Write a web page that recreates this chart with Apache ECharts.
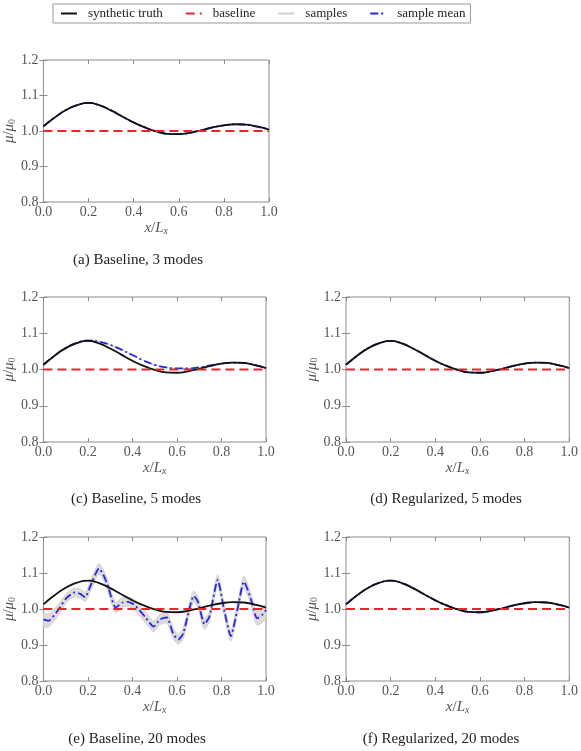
<!DOCTYPE html>
<head>
    <meta charset="utf-8">
    <title>viscosity modes</title>
    <script src="https://cdn.jsdelivr.net/npm/echarts@6/dist/echarts.min.js"></script>
</head>
<body style="margin:0">
    <div id="main" style="width:581px;height:751px"></div>
    <script type="text/javascript">
    // x positions for the smooth curves
    var xs = [0, 0.05, 0.1, 0.15, 0.2, 0.25, 0.3, 0.35, 0.4, 0.45, 0.5,
              0.55, 0.6, 0.65, 0.7, 0.75, 0.8, 0.85, 0.9, 0.95, 1.0];
    // synthetic truth
    var truth = [1.013, 1.038, 1.059, 1.073, 1.079, 1.072, 1.058, 1.041, 1.024, 1.010, 0.999,
                 0.992, 0.991, 0.995, 1.002, 1.010, 1.016, 1.019, 1.018, 1.012, 1.004];
    // sample mean, baseline 5 modes (c)
    var meanC = [1.013, 1.038, 1.059, 1.074, 1.080, 1.077, 1.068, 1.055, 1.040, 1.025, 1.013,
                 1.006, 1.003, 1.003, 1.006, 1.011, 1.016, 1.019, 1.018, 1.012, 1.004];
    // sample mean for (a), (d), (f): sits on the truth
    var meanFit = [1.013, 1.038, 1.059, 1.073, 1.079, 1.072, 1.058, 1.041, 1.024, 1.010, 0.999,
                   0.992, 0.991, 0.995, 1.002, 1.010, 1.016, 1.019, 1.018, 1.012, 1.004];
    var baseline = [1.0, 1.0];
    var baseX = [0, 1];

    // baseline 20 modes (e)
    var eX = [0, 0.022, 0.066, 0.103, 0.14, 0.165, 0.188, 0.21, 0.25, 0.273, 0.288, 0.325,
              0.355, 0.381, 0.414, 0.458, 0.495, 0.524, 0.554, 0.583, 0.606, 0.628, 0.676,
              0.694, 0.724, 0.746, 0.783, 0.812, 0.842, 0.871, 0.901, 0.931, 0.960, 0.982, 1.0];
    var eMean = [0.971, 0.967, 0.997, 1.030, 1.046, 1.042, 1.033, 1.062, 1.113, 1.090, 1.067, 1.004,
                 1.018, 1.020, 1.009, 0.977, 0.951, 0.971, 0.977, 0.932, 0.915, 0.932, 1.036,
                 1.020, 0.958, 0.979, 1.081, 0.997, 0.925, 0.997, 1.076, 1.030, 0.974, 0.983, 0.997];
    var eLow = [0.950, 0.950, 0.982, 1.018, 1.034, 1.030, 1.021, 1.048, 1.098, 1.076, 1.053, 0.990,
                1.005, 1.007, 0.995, 0.962, 0.937, 0.957, 0.962, 0.918, 0.902, 0.918, 1.021,
                1.005, 0.944, 0.965, 1.066, 0.983, 0.911, 0.983, 1.061, 1.015, 0.955, 0.962, 0.975];
    var eHigh = [0.990, 0.985, 1.012, 1.043, 1.058, 1.055, 1.046, 1.076, 1.127, 1.104, 1.081, 1.018,
                 1.031, 1.033, 1.023, 0.992, 0.966, 0.985, 0.991, 0.946, 0.929, 0.946, 1.050,
                 1.035, 0.973, 0.993, 1.095, 1.012, 0.940, 1.012, 1.090, 1.045, 0.992, 1.004, 1.015];

    var xTicks = [0, 0.2, 0.4, 0.6, 0.8, 1.0];
    var yTicks = [0.8, 0.9, 1.0, 1.1, 1.2];

    var captions = ['(a) Baseline, 3 modes', '(c) Baseline, 5 modes', '(d) Regularized, 5 modes',
                    '(e) Baseline, 20 modes', '(f) Regularized, 20 modes'];

    var serif = 'Liberation Serif';
    var frame = '#8c8c8c';
    var gray = '#cfcfcf';

    function pairs(x, y) {
        return x.map(function (v, i) { return [v, y[i]]; });
    }

    // panels: grid box, caption position, mean data, samples band
    var panels = [
        {grid: [43, 60, 226, 142], cap: [138, 260], mean: pairs(xs, meanFit)},
        {grid: [40, 297, 226, 145], cap: [136, 499], mean: pairs(xs, meanC)},
        {grid: [346, 297, 227, 145], cap: [446, 499], mean: pairs(xs, meanFit)},
        {grid: [40, 537, 226, 144], cap: [137, 739], mean: pairs(eX, eMean), band: true},
        {grid: [346, 537, 227, 144], cap: [441, 739], mean: pairs(xs, meanFit)}
    ];

    var grids = [], xAxes = [], yAxes = [], series = [], graphics = [];
    var tick = {show: true, inside: true, length: 4, lineStyle: {color: frame}};
    var nameRich = {
        i: {fontFamily: serif, fontStyle: 'italic', fontSize: 15, color: '#555', lineHeight: 16},
        n: {fontFamily: serif, fontSize: 15, color: '#555', lineHeight: 16},
        s: {fontFamily: serif, fontSize: 10, color: '#555', lineHeight: 16,
            verticalAlign: 'bottom', padding: [6, 0, 0, 0]},
        si: {fontFamily: serif, fontStyle: 'italic', fontSize: 10, color: '#555', lineHeight: 16,
             verticalAlign: 'bottom', padding: [6, 0, 0, 0]}
    };

    panels.forEach(function (p, k) {
        grids.push({left: p.grid[0], top: p.grid[1], width: p.grid[2], height: p.grid[3],
                    show: true, borderColor: frame, borderWidth: 1, backgroundColor: 'transparent'});
        xAxes.push({
            type: 'value', gridIndex: k, min: 0, max: 1, interval: 0.2,
            axisLine: {show: false}, axisTick: tick, splitLine: {show: false},
            axisLabel: {margin: 3, color: '#555', fontFamily: serif, fontSize: 14,
                        formatter: function (v) { return v.toFixed(1); }},
            name: '{i|x}{n|/}{i|L}{si|x}', nameLocation: 'middle', nameGap: 15,
            nameTextStyle: {rich: nameRich}
        });
        xAxes.push({
            type: 'value', gridIndex: k, min: 0, max: 1, interval: 0.2, position: 'top',
            axisLine: {show: false}, axisTick: tick, axisLabel: {show: false}, splitLine: {show: false}
        });
        yAxes.push({
            type: 'value', gridIndex: k, min: 0.8, max: 1.2, interval: 0.1,
            axisLine: {show: false}, axisTick: tick, splitLine: {show: false},
            axisLabel: {margin: 5, color: '#555', fontFamily: serif, fontSize: 14,
                        formatter: function (v) { return v.toFixed(1); }},
            name: '{i|μ}{n|/}{i|μ}{s|0}', nameLocation: 'middle', nameGap: 22, nameRotate: 90,
            nameTextStyle: {rich: nameRich}
        });
        yAxes.push({
            type: 'value', gridIndex: k, min: 0.8, max: 1.2, interval: 0.1, position: 'right',
            axisLine: {show: false}, axisTick: tick, axisLabel: {show: false}, splitLine: {show: false}
        });
        var xi = 2 * k, yi = 2 * k;

        if (p.band) {
            // edges of the sample spread
            series.push({
                name: 'samples', type: 'line', xAxisIndex: xi, yAxisIndex: yi, color: gray,
                data: pairs(eX, eLow), symbol: 'none', smooth: 0.2,
                lineStyle: {color: gray, width: 1}, z: 1
            });
            series.push({
                name: 'samples', type: 'line', xAxisIndex: xi, yAxisIndex: yi, color: gray,
                data: pairs(eX, eHigh), symbol: 'none', smooth: 0.2,
                lineStyle: {color: gray, width: 1}, z: 1
            });
            // filled spread between the edges
            series.push({
                name: 'samples', type: 'custom', xAxisIndex: xi, yAxisIndex: yi,
                data: eX.map(function (x, i) { return [x, eLow[i], eHigh[i]]; }),
                encode: {x: 0, y: [1, 2]}, z: 1, clip: true,
                renderItem: function (params, api) {
                    if (params.dataIndex !== 0) return null;
                    var pts = [];
                    eX.forEach(function (x, i) { pts.push(api.coord([x, eHigh[i]])); });
                    for (var i = eX.length - 1; i >= 0; i--) pts.push(api.coord([eX[i], eLow[i]]));
                    return {type: 'polygon', shape: {points: pts, smooth: 0.2},
                            style: {fill: '#d6d6d6', opacity: 0.85, stroke: null}};
                }
            });
        } else {
            series.push({
                name: 'samples', type: 'line', xAxisIndex: xi, yAxisIndex: yi, color: gray,
                data: p.mean, symbol: 'none', smooth: true,
                lineStyle: {color: gray, width: 1}, z: 1
            });
        }
        series.push({
            name: 'sample mean', type: 'line', xAxisIndex: xi, yAxisIndex: yi, color: '#2626e6',
            data: p.mean, symbol: 'none', smooth: p.band ? 0.2 : true,
            lineStyle: {color: '#2626e6', width: 1.8, type: [8, 3, 2, 3]}, z: 2
        });
        series.push({
            name: 'synthetic truth', type: 'line', xAxisIndex: xi, yAxisIndex: yi, color: '#111',
            data: pairs(xs, truth), symbol: 'none', smooth: true,
            lineStyle: {color: '#111', width: 1.8}, z: 3
        });
        series.push({
            name: 'baseline', type: 'line', xAxisIndex: xi, yAxisIndex: yi, color: '#e8262a',
            data: pairs(baseX, baseline), symbol: 'none',
            lineStyle: {color: '#e8262a', width: 2, type: [9, 5]}, z: 4
        });

        graphics.push({
            type: 'text', x: p.cap[0], y: p.cap[1],
            style: {text: captions[k], textAlign: 'center', textVerticalAlign: 'middle',
                    font: '15px "Liberation Serif"', fill: '#222'}
        });
    });

    var myChart = echarts.init(document.getElementById('main'));
    myChart.setOption({
        animation: false,
        backgroundColor: '#fff',
        legend: {
            data: ['synthetic truth', 'baseline', 'samples', 'sample mean'],
            left: 53, top: 4, padding: [3, 5, 3, 7], itemGap: 22,
            itemWidth: 16, itemHeight: 14,
            itemStyle: {opacity: 0},
            borderColor: '#999', borderWidth: 1,
            textStyle: {fontFamily: serif, fontSize: 13, color: '#222', padding: [0, 0, 0, 6]}
        },
        grid: grids,
        xAxis: xAxes,
        yAxis: yAxes,
        series: series,
        graphic: graphics
    });
    </script>
</body>
